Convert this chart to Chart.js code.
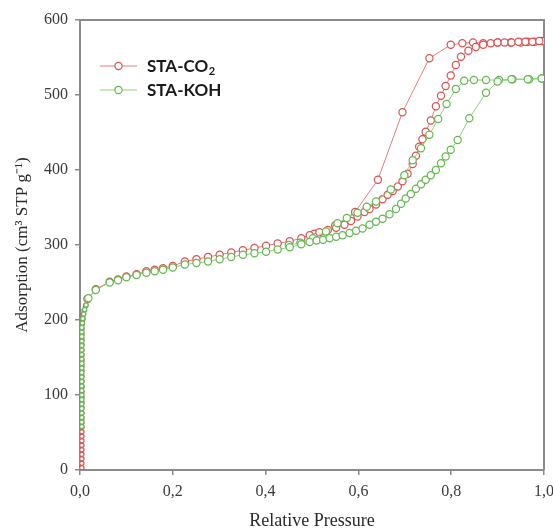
<!DOCTYPE html>
<html><head><meta charset="utf-8">
<script src="https://cdn.jsdelivr.net/npm/chart.js@4"></script>
<style>html,body{margin:0;padding:0;background:#fff}</style>
</head><body>
<canvas id="c" width="553" height="532"></canvas>
<script>
const xTickLabels = ['0,0','0,2','0,4','0,6','0,8','1,0'];
const seriesNames = ['STA-CO', 'STA-KOH'];
const xTitle = 'Relative Pressure';
const yTitle = 'Adsorption (cm³ STP g⁻¹)';

// STA-CO2 adsorption branch
const co2AdsP = [0.004,0.004,0.004,0.004,0.004,0.004,0.004,0.004,0.004,0.004,0.004,0.004,0.004,0.004,0.004,0.004,0.004,0.004,0.004,0.004,0.004,0.004,0.004,0.004,0.004,0.004,0.004,0.004,0.004,0.005,0.006,0.007,0.009,0.012,
  0.016,0.034,0.064,0.082,0.100,0.122,0.143,0.161,0.179,0.200,0.226,0.251,0.276,0.301,0.326,0.351,0.376,0.401,0.426,0.452,0.477,0.495,0.516,0.534,0.552,0.570,0.584,0.598,0.613,0.624,0.638,0.652,0.663,0.674,0.685,0.695,0.706,0.717,0.724,0.731,0.738,0.745,0.756,0.767,0.778,0.788,0.799,0.810,0.821,0.837,0.853,0.869,0.885,0.900,0.915,0.930,0.945,0.960,0.975,0.990];
const co2AdsV = [3,9,15,21,27,33,39,45,51,57,63,69,76,83,90,97,104,111,118,125,132,139,146,153,160,167,174,181,188,195,201,207,213,219,
  228,241,251,254,258,261,265,267,269,272,278,281,284,287,290,293,296,299,302,305,309,313,317,320,323,327,332,338,344,348,354,361,367,372,378,385,395,408,419,431,441,451,466,485,499,512,526,540,551,559,564,567,569,570,570,570,571,571,571,572];
// STA-CO2 desorption branch
const co2DesP = [0.995,0.980,0.965,0.950,0.928,0.900,0.869,0.847,0.824,0.799,0.753,0.695,0.642,0.593,0.550,0.505];
const co2DesV = [572,571,571,570,570,570,569,570,569,567,549,477,387,344,326,315];

// STA-KOH adsorption branch
const kohAdsP = [0.004,0.004,0.004,0.004,0.004,0.004,0.004,0.004,0.004,0.004,0.004,0.004,0.004,0.004,0.004,0.004,0.004,0.004,0.004,0.004,0.004,0.004,0.004,0.005,0.006,0.008,0.010,0.013,
  0.018,0.034,0.064,0.082,0.100,0.122,0.143,0.161,0.179,0.200,0.226,0.251,0.276,0.301,0.326,0.351,0.376,0.401,0.426,0.452,0.477,0.495,0.510,0.524,0.538,0.552,0.566,0.581,0.595,0.609,0.624,0.638,0.652,0.667,0.681,0.692,0.702,0.713,0.724,0.735,0.745,0.756,0.767,0.778,0.788,0.799,0.814,0.839,0.875,0.900,0.930,0.965,0.995];
const kohAdsV = [58,64,70,76,82,88,94,100,106,112,118,124,130,136,142,148,154,160,166,172,178,184,190,196,202,208,214,220,
  229,240,250,253,257,260,263,265,267,270,274,276,278,281,284,287,289,291,294,297,301,304,306,307,309,311,313,316,319,322,327,331,335,341,348,355,362,368,375,381,387,393,400,409,418,427,440,469,503,518,521,521,522];
// STA-KOH desorption branch
const kohDesP = [0.995,0.968,0.932,0.903,0.875,0.849,0.828,0.810,0.790,0.772,0.753,0.735,0.717,0.699,0.670,0.638,0.618,0.598,0.575,0.555,0.530,0.502,0.475,0.450];
const kohDesV = [522,521,521,520,520,520,519,508,488,468,447,429,413,393,374,358,351,343,336,329,318,309,303,300];

const zip = (p, v) => p.map((x, i) => ({x, y: v[i]}));

const RED = '#dc5050', RED_LINE = '#e57c7c';
const GREEN = '#62b84e', GREEN_LINE = '#8fcf7c';

const radiusFn = (ctx) => (ctx.raw && ctx.raw.x < 0.015 && ctx.raw.y < 222) ? 2.2 : 3.6;

function ds(label, data, line, mark, order) {
  return {
    label, data, order,
    showLine: true,
    borderColor: line, borderWidth: 1,
    pointStyle: 'circle', pointRadius: radiusFn,
    pointBackgroundColor: '#ffffff', pointBorderColor: mark, pointBorderWidth: 1.2,
    tension: 0
  };
}

const frame = {
  id: 'frame',
  beforeDatasetsDraw(chart) {
    const {ctx, chartArea: a} = chart;
    ctx.save();
    ctx.strokeStyle = '#8a8a8a';
    ctx.lineWidth = 2;
    ctx.beginPath();
    ctx.moveTo(a.left, a.top);
    ctx.lineTo(a.right, a.top);
    ctx.lineTo(a.right, a.bottom);
    ctx.stroke();
    ctx.restore();
  }
};

const legendPlugin = {
  id: 'customLegend',
  afterDraw(chart) {
    const {ctx} = chart;
    const items = [
      {y: 66, line: RED_LINE, mark: RED, name: seriesNames[0], sub: '2'},
      {y: 90, line: GREEN_LINE, mark: GREEN, name: seriesNames[1], sub: ''}
    ];
    ctx.save();
    items.forEach(it => {
      ctx.strokeStyle = it.line; ctx.lineWidth = 1.2;
      ctx.beginPath(); ctx.moveTo(100, it.y); ctx.lineTo(137, it.y); ctx.stroke();
      ctx.fillStyle = '#fff'; ctx.strokeStyle = it.mark;
      ctx.beginPath(); ctx.arc(118.5, it.y, 3.6, 0, Math.PI * 2); ctx.fill(); ctx.stroke();
      ctx.fillStyle = '#1a1a1a';
      ctx.font = 'bold 17px Lato';
      ctx.textBaseline = 'middle';
      ctx.textAlign = 'left';
      ctx.fillText(it.name, 147, it.y + 1);
      if (it.sub) {
        const w = ctx.measureText(it.name).width;
        ctx.font = 'bold 11px Lato';
        ctx.fillText(it.sub, 147 + w + 0.5, it.y + 5);
      }
    });
    ctx.restore();
  }
};

const tickFont = {family: 'Liberation Serif', size: 16};
const gridOpts = {drawOnChartArea: false, drawTicks: true, tickLength: 5, color: '#8a8a8a', lineWidth: 1.5};

new Chart(document.getElementById('c'), {
  type: 'scatter',
  data: {
    datasets: [
      ds('STA-KOH ads', zip(kohAdsP, kohAdsV), GREEN_LINE, GREEN, 1),
      ds('STA-KOH des', zip(kohDesP, kohDesV), GREEN_LINE, GREEN, 1),
      ds('STA-CO2 ads', zip(co2AdsP, co2AdsV), RED_LINE, RED, 2),
      ds('STA-CO2 des', zip(co2DesP, co2DesV), RED_LINE, RED, 2)
    ]
  },
  options: {
    responsive: false,
    animation: false,
    layout: {padding: {top: 20, right: 9, left: 0, bottom: 0}},
    plugins: {legend: {display: false}, tooltip: {enabled: false}},
    scales: {
      x: {
        type: 'linear', position: 'bottom', min: 0, max: 1,
        ticks: {stepSize: 0.2, padding: 7, color: '#3a3a3a', font: tickFont,
          callback: (v) => xTickLabels[Math.round(v / 0.2)]},
        grid: gridOpts,
        border: {color: '#8a8a8a', width: 2},
        title: {display: true, text: xTitle, color: '#2a2a2a',
          font: {family: 'Liberation Serif', size: 18}, padding: {top: 0, bottom: 0}},
        afterFit(s) { s.height = 62; s.paddingLeft = 0; s.paddingRight = 0; }
      },
      y: {
        type: 'linear', position: 'left', min: 0, max: 600,
        ticks: {stepSize: 100, padding: 7, color: '#3a3a3a', font: tickFont},
        grid: gridOpts,
        border: {color: '#8a8a8a', width: 2},
        title: {display: true, text: yTitle, color: '#2a2a2a',
          font: {family: 'Liberation Serif', size: 17}, padding: {top: 12, bottom: 0}},
        afterFit(s) { s.width = 80; s.paddingTop = 0; s.paddingBottom = 0; }
      }
    }
  },
  plugins: [frame, legendPlugin]
});
</script>
</body></html>
